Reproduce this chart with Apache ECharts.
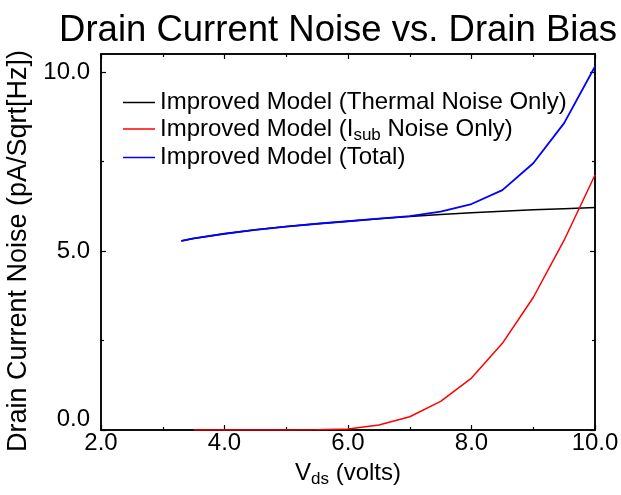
<!DOCTYPE html>
<html>
<head>
<meta charset="utf-8">
<script src="https://cdn.jsdelivr.net/npm/echarts@6/dist/echarts.min.js"></script>
<style>
  html, body { margin: 0; padding: 0; background: #fff; }
  #chart { width: 621px; height: 495px; }
</style>
</head>
<body>
<div id="chart"></div>
<script>
// ---- data ----
const vdsThermal = [3.3, 3.5, 4.0, 4.5, 5.0, 5.5, 6.0, 6.5, 7.0, 7.5, 8.0, 8.5, 9.0, 9.5, 10.0];
const thermalNoise = [5.28, 5.35, 5.48, 5.59, 5.68, 5.76, 5.83, 5.90, 5.96, 6.02, 6.07, 6.11, 6.15, 6.18, 6.21];
const vdsIsub = [3.5, 4.0, 4.5, 5.0, 5.5, 6.0, 6.5, 7.0, 7.5, 8.0, 8.5, 9.0, 9.5, 10.0];
const isubNoise = [0.0, 0.0, 0.0, 0.0, 0.005, 0.03, 0.14, 0.37, 0.80, 1.45, 2.42, 3.70, 5.30, 7.12];
const vdsTotal = [3.3, 3.5, 4.0, 4.5, 5.0, 5.5, 6.0, 6.5, 7.0, 7.5, 8.0, 8.5, 9.0, 9.5, 10.0];
const totalNoise = [5.28, 5.35, 5.48, 5.59, 5.68, 5.76, 5.83, 5.90, 5.97, 6.10, 6.31, 6.70, 7.45, 8.57, 10.15];
const seriesNames = ['Improved Model (Thermal Noise Only)', 'Improved Model (Isub Noise Only)', 'Improved Model (Total)'];
const yMajorTicks = [0, 5, 10];
const yMinorTicks = [2.5, 7.5];

const pairs = (xs, ys) => xs.map((x, i) => [x, ys[i]]);
const FONT = 'Liberation Sans, Arial, Helvetica, sans-serif';

const chart = echarts.init(document.getElementById('chart'), null, { renderer: 'canvas' });

function yAx(pos, ticks, len, labels, line) {
  return {
    type: 'value', position: pos, min: 0, max: 10.5, gridIndex: 0,
    axisLine: { show: line, lineStyle: { color: '#000', width: 1.5 } },
    axisTick: { show: true, inside: true, length: len, customValues: ticks, lineStyle: { color: '#000', width: 1.2 } },
    axisLabel: labels ? {
      show: true, customValues: yMajorTicks, margin: 11, color: '#000', fontSize: 24, fontFamily: FONT,
      formatter: v => (v === 0 ? '{b|' + v.toFixed(1) + '}' : v.toFixed(1)),
      rich: { b: { fontSize: 24, color: '#000', fontFamily: FONT, padding: [0, 0, 22, 0] } }
    } : { show: false },
    splitLine: { show: false }
  };
}
function xAx(pos, labels) {
  return {
    type: 'value', position: pos, min: 2, max: 10, interval: 2,
    axisLine: { show: true, onZero: false, lineStyle: { color: '#000', width: 1.5 } },
    axisTick: { show: true, inside: true, length: 5, lineStyle: { color: '#000', width: 1.2 } },
    minorTick: { show: true, splitNumber: 2, length: 3, lineStyle: { color: '#000', width: 1.2 } },
    axisLabel: labels ? { show: true, margin: 1, color: '#000', fontSize: 24, fontFamily: FONT, formatter: v => v.toFixed(1) } : { show: false },
    splitLine: { show: false },
    name: labels ? '{v|V}{s|ds}{v| (volts)}' : '',
    nameLocation: 'middle', nameGap: 29,
    nameTextStyle: {
      color: '#000', fontFamily: FONT,
      rich: {
        v: { fontSize: 24, color: '#000', fontFamily: FONT },
        s: { fontSize: 17, color: '#000', fontFamily: FONT, padding: [12, 0, 0, 0] }
      }
    }
  };
}

const yLeft = yAx('left', yMajorTicks, 5, true, true);
yLeft.name = 'Drain Current Noise (pA/Sqrt[Hz])';
yLeft.nameLocation = 'middle';
yLeft.nameGap = 68;
yLeft.nameTextStyle = { color: '#000', fontSize: 27, fontFamily: FONT, padding: [0, 18, 0, 0] };

const option = {
  backgroundColor: '#fff',
  animation: false,
  title: {
    text: 'Drain Current Noise vs. Drain Bias',
    left: 333, top: 7, textAlign: 'center',
    textStyle: { color: '#000', fontSize: 36.5, fontWeight: 'normal', fontFamily: FONT }
  },
  grid: { left: 101, right: 26, top: 54, bottom: 65, show: true, borderColor: '#000', borderWidth: 1.5, backgroundColor: 'transparent', outerBoundsMode: 'none', containLabel: false },
  legend: {
    data: seriesNames,
    orient: 'vertical', left: 118, top: 85,
    icon: 'rect', itemWidth: 32, itemHeight: 1.5, itemGap: 1.5,
    textStyle: {
      color: '#000', fontSize: 24, fontFamily: FONT, lineHeight: 25,
      rich: {
        a: { fontSize: 24, color: '#000', fontFamily: FONT },
        s: { fontSize: 17, color: '#000', fontFamily: FONT, padding: [12, 0, 0, 0] }
      }
    },
    formatter: function (name) {
      if (name === seriesNames[1]) return '{a|Improved Model (I}{s|sub}{a| Noise Only)}';
      return '{a|' + name + '}';
    }
  },
  xAxis: [xAx('bottom', true), xAx('top', false)],
  yAxis: [
    yLeft,
    yAx('left', yMinorTicks, 3, false, false),
    yAx('right', yMajorTicks, 5, false, true),
    yAx('right', yMinorTicks, 3, false, false)
  ],
  series: [
    { name: seriesNames[0], type: 'line', data: pairs(vdsThermal, thermalNoise), showSymbol: false, symbol: 'none', lineStyle: { color: '#000', width: 1.5 }, itemStyle: { color: '#000' }, z: 3 },
    { name: seriesNames[1], type: 'line', data: pairs(vdsIsub, isubNoise), showSymbol: false, symbol: 'none', lineStyle: { color: '#ff0000', width: 1.5 }, itemStyle: { color: '#ff0000' }, z: 4 },
    { name: seriesNames[2], type: 'line', data: pairs(vdsTotal, totalNoise), showSymbol: false, symbol: 'none', lineStyle: { color: '#0000ff', width: 1.8 }, itemStyle: { color: '#0000ff' }, z: 5 }
  ]
};
chart.setOption(option);
</script>
</body>
</html>
